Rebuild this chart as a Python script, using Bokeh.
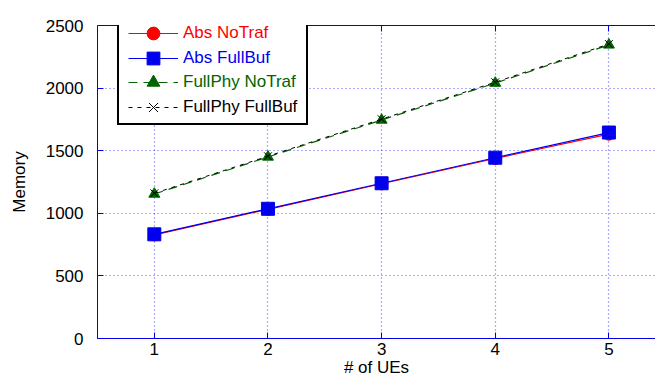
from bokeh.plotting import figure
from bokeh.models import (Legend, LegendItem, LinearAxis, FixedTicker, Range1d)
from bokeh.embed import file_html
from bokeh.resources import INLINE

# ---- data ----
ues = [1, 2, 3, 4, 5]
abs_notraf = [828, 1032, 1236, 1438, 1632]
abs_fullbuf = [832, 1036, 1240, 1444, 1645]
fullphy_notraf = [1154, 1450, 1745, 2040, 2345]
fullphy_fullbuf = [1160, 1456, 1752, 2047, 2352]
x_ticks = [1, 2, 3, 4, 5]
y_ticks = [0, 500, 1000, 1500, 2000, 2500]

FONT = "Liberation Sans"
BLUE = "#0000ee"
GREEN = "#006400"

p = figure(frame_width=558, frame_height=313, output_backend="svg", toolbar_location=None,
           x_range=Range1d(0.5, 5.41), y_range=Range1d(0, 2500),
           min_border_left=97, min_border_right=0, min_border_top=25, min_border_bottom=38)
p.outline_line_color = None
p.background_fill_color = "white"

# grid
for g in (p.xgrid, p.ygrid):
    g.grid_line_color = "#0000ff"
    g.grid_line_alpha = 0.65
    g.grid_line_dash = "1 3"
    g.grid_line_width = 1.2
p.xgrid.ticker = FixedTicker(ticks=x_ticks)
p.ygrid.ticker = FixedTicker(ticks=y_ticks)

def style_axis(ax):
    ax.axis_line_color = BLUE
    ax.axis_line_width = 1
    ax.major_tick_line_color = BLUE
    ax.major_tick_in = 6
    ax.major_tick_out = 0
    ax.minor_tick_line_color = None
    ax.major_label_text_font = FONT
    ax.major_label_text_font_size = "17px"
    ax.major_label_text_color = "black"
    ax.axis_label_text_font = FONT
    ax.axis_label_text_font_size = "17px"
    ax.axis_label_text_font_style = "normal"
    ax.axis_label_text_color = "black"

xa = p.xaxis[0]
ya = p.yaxis[0]
style_axis(xa)
style_axis(ya)
xa.ticker = FixedTicker(ticks=x_ticks)
ya.ticker = FixedTicker(ticks=y_ticks)
xa.axis_label = "# of UEs"
ya.axis_label = "Memory"
xa.major_label_standoff = 4
xa.axis_label_standoff = 0
ya.major_label_standoff = 14
ya.axis_label_standoff = 14

top = LinearAxis(ticker=FixedTicker(ticks=x_ticks))
style_axis(top)
top.major_label_text_font_size = "0px"
top.major_label_standoff = 0
p.add_layout(top, "above")

# series
r1l = p.line(ues, abs_notraf, line_color="red", line_width=1.2)
r1m = p.scatter(ues, abs_notraf, marker="circle", size=12, fill_color="red", line_color="red")
r2l = p.line(ues, abs_fullbuf, line_color=BLUE, line_width=1.2)
r2m = p.scatter(ues, abs_fullbuf, marker="square", size=13, fill_color=BLUE, line_color=BLUE)
r3l = p.line(ues, fullphy_notraf, line_color=GREEN, line_width=1.2, line_dash="9 6")
r3m = p.scatter(ues, fullphy_notraf, marker="triangle", size=11, fill_color=GREEN, line_color=GREEN)
r4l = p.line(ues, fullphy_fullbuf, line_color="black", line_width=1.0, line_dash="4 5")
r4m = p.scatter(ues, fullphy_fullbuf, marker="x", size=11, line_color="black", line_width=1.0)

# invisible renderer used only to size the legend frame
dummy = p.line(ues, fullphy_fullbuf, line_alpha=0)

frame_lg = Legend(items=[LegendItem(label=" ", renderers=[dummy])],
                  location=(20, 213), padding=10, margin=0, spacing=0,
                  glyph_width=147, glyph_height=90, label_height=90,
                  label_standoff=0, border_line_color="black", border_line_width=2,
                  border_line_alpha=1.0,
                  background_fill_color="white", background_fill_alpha=1.0,
                  label_text_font=FONT, label_text_font_size="17px")
p.add_layout(frame_lg, "center")

entries = [
    ("Abs NoTraf", [r1l, r1m], "red", 33),
    ("Abs FullBuf", [r2l, r2m], BLUE, 57.5),
    ("FullPhy NoTraf", [r3l, r3m], GREEN, 82),
    ("FullPhy FullBuf", [r4l, r4m], "black", 106.5),
]
for label, rends, col, cy in entries:
    lg = Legend(items=[LegendItem(label=label, renderers=rends)],
                location=(31, 338 - (cy + 16)), padding=0, margin=0, spacing=0,
                glyph_width=50, glyph_height=32, label_height=32,
                label_standoff=5, border_line_color=None,
                background_fill_alpha=0,
                label_text_font=FONT, label_text_font_size="17px",
                label_text_color=col)
    p.add_layout(lg, "center")

open("out.html", "w").write(file_html(p, INLINE))
